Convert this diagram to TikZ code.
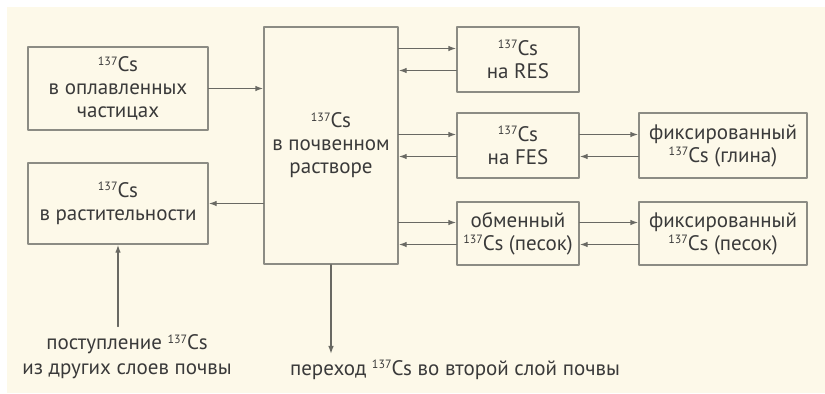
\documentclass[tikz,border=0pt]{standalone}
\usepackage{fontspec}
\setmainfont{PT Sans}
\usepackage{tikz}
\usetikzlibrary{arrows.meta,positioning}
\definecolor{paper}{HTML}{FDF9E9}
\definecolor{ink}{HTML}{3A3A3A}
\definecolor{frame}{HTML}{8C8C84}
\newcommand{\Cs}{\raisebox{.62ex}{\fontsize{6}{6}\selectfont 137}Cs}
\tikzset{
  pool/.style={draw=frame,line width=.7pt,fill=paper,align=center,inner sep=1pt,
    text=ink,font=\fontsize{10.5}{11.5}\selectfont},
  flow/.style={draw=frame!75!black,line width=.7pt,-{Latex[length=4pt,width=2.8pt]}},
  note/.style={align=center,inner sep=1pt,text=ink,font=\fontsize{10.5}{12.5}\selectfont}
}

\begin{document}
\begin{tikzpicture}[x=0.5pt,y=-0.5pt,line cap=round,line join=round]
  \fill[white] (0,0) rectangle (825,393);
  \fill[paper] (7,7) rectangle (825,393);
  \useasboundingbox (0,0) rectangle (825,393);

  % pools
  \node[pool,minimum width=90pt,minimum height=41.5pt] (melt)  at (118,88.5)  {\Cs\\в оплавленных\\частицах};
  \node[pool,minimum width=90pt,minimum height=40.5pt] (plant) at (118,203.5) {\Cs\\в растительности};
  \node[pool,minimum width=67pt,minimum height=118.5pt] (soil) at (331,145.5) {\Cs\\в почвенном\\растворе};
  \node[pool,minimum width=61pt,minimum height=32.5pt] (res)   at (518,59.5)  {\Cs\\на RES};
  \node[pool,minimum width=61pt,minimum height=32.5pt] (fes)   at (518,145.5) {\Cs\\на FES};
  \node[pool,minimum width=61pt,minimum height=31.5pt] (exch)  at (518,233.5) {обменный\\\Cs{} (песок)};
  \node[pool,minimum width=84pt,minimum height=32.5pt] (clay)  at (723,145.5) {фиксированный\\\Cs{} (глина)};
  \node[pool,minimum width=84pt,minimum height=31.5pt] (sand)  at (723,233.5) {фиксированный\\\Cs{} (песок)};

  \node[note] (in)  at (127,357) {поступление \Cs\\из других слоев почвы};
  \node[note] (out) at (455,370) {переход \Cs{} во второй слой почвы};

  % flows
  \draw[flow] (melt.east) -- (melt.east -| soil.west);
  \draw[flow] (soil.west |- plant.east) -- (plant.east);
  \foreach \b in {res,fes,exch} {
    \draw[flow] ([yshift=5.5pt]soil.east |- \b.west) -- ([yshift=5.5pt]\b.west);
    \draw[flow] ([yshift=-5.5pt]\b.west) -- ([yshift=-5.5pt]soil.east |- \b.west);
  }
  \foreach \a/\b in {fes/clay,exch/sand} {
    \draw[flow] ([yshift=5.5pt]\a.east) -- ([yshift=5.5pt]\b.west);
    \draw[flow] ([yshift=-5.5pt]\b.west) -- ([yshift=-5.5pt]\a.east);
  }
  \draw[flow] ([yshift=3pt]plant.south |- in.north) -- (plant.south);
  \draw[flow] (soil.south) -- ([yshift=2pt]soil.south |- out.north);
\end{tikzpicture}
\end{document}
